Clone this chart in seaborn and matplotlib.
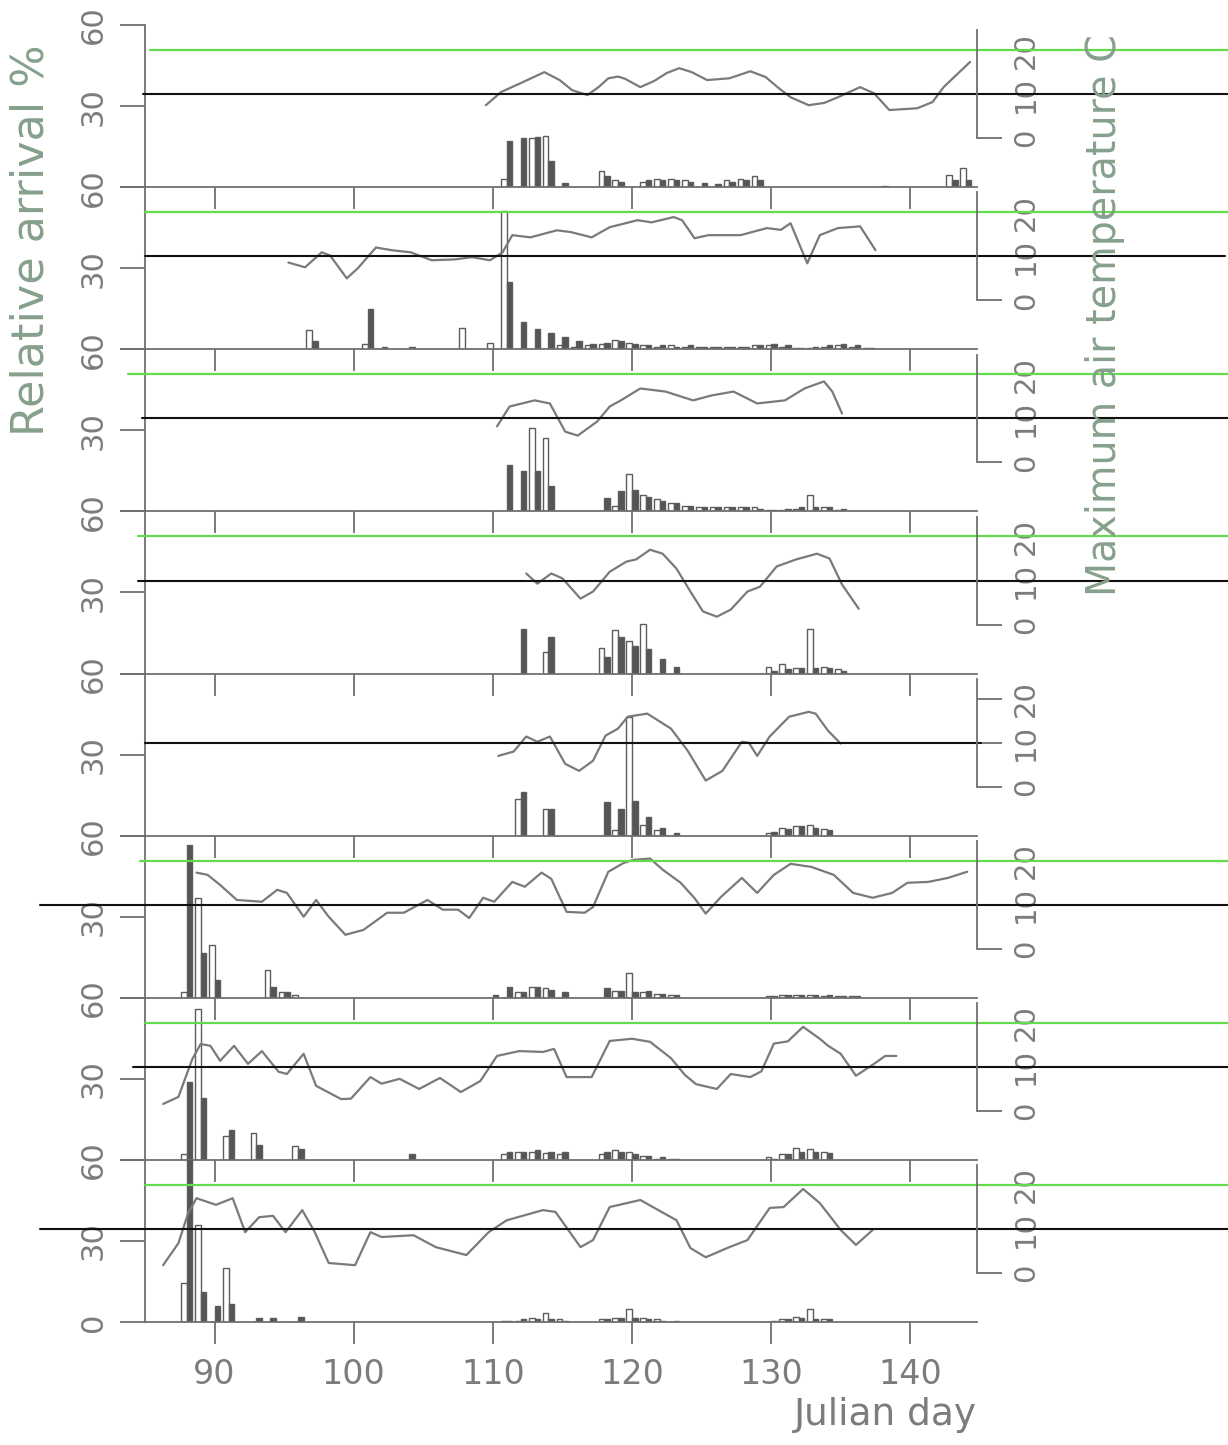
import numpy as np
import pandas as pd
import seaborn as sns
import matplotlib.pyplot as plt

# ---- relative arrival (%) per day: open and filled bars, 8 panels top to bottom
p1_days = [111, 112, 113, 114, 115, 118, 119, 121, 122, 123, 124, 125, 126, 127, 128, 129, 138, 143, 144]
p1_open = [3, 0, 18, 19, 0, 6, 2.5, 2, 3, 3, 2.5, 0, 0, 2.5, 3, 4, 0, 4.5, 7]
p1_filled = [17, 18, 18.5, 9.5, 1.5, 4, 2, 2.5, 2.5, 2.5, 2, 1.5, 1, 2, 2.5, 2.5, 0.5, 2.5, 2.5]

p2_days = [97, 101, 102, 104, 108, 110, 111, 112, 113, 114, 115, 116, 117, 118, 119, 120, 121,
           122, 123, 124, 125, 126, 127, 128, 129, 130, 131, 132, 133, 134, 135, 136, 137]
p2_open = [7, 2, 0, 0, 8, 2.5, 51, 0, 0, 0, 1.5, 1, 1.5, 2, 3.5, 2.5, 1.5,
           1, 1.5, 1, 1, 1, 1, 1, 1.5, 1.5, 1, 0.5, 0.5, 1, 1.5, 1, 0.5]
p2_filled = [3, 15, 1, 1, 0, 0, 25, 10, 7.5, 6, 4.5, 3, 2, 2.5, 3, 2, 1.5,
             1.5, 1, 1.5, 1, 1, 1, 1, 1.5, 2, 1.5, 0.5, 1, 1.5, 2, 1.5, 0.5]

p3_days = [111, 112, 113, 114, 118, 119, 120, 121, 122, 123, 124, 125, 126, 127, 128, 129, 130,
           131, 132, 133, 134, 135]
p3_open = [0, 0, 31, 27, 0, 2, 14, 6, 4.5, 3, 2, 1.5, 1.5, 1.5, 1.5, 1.5, 0.5, 0.5, 1, 6, 1.5, 0.5]
p3_filled = [17, 15, 15, 9.3, 5, 7.4, 7.8, 5.4, 4, 3, 2, 1.5, 1.5, 1.5, 1.5, 1, 0.5, 1, 1.5, 1.5, 1.5, 1]

p4_days = [112, 114, 118, 119, 120, 121, 122, 123, 130, 131, 132, 133, 134, 135]
p4_open = [0, 8, 9.3, 16, 12, 18.5, 0, 0, 2.5, 3.5, 2, 16.5, 2.5, 1.5]
p4_filled = [16.5, 13.5, 6, 13.5, 10, 9, 5.5, 2.5, 1, 1.5, 2, 2, 2, 1]

p5_days = [112, 114, 118, 119, 120, 121, 122, 123, 130, 131, 132, 133, 134]
p5_open = [13.7, 10, 0, 2, 44, 4, 2, 0, 1, 3, 3.5, 4, 2.5]
p5_filled = [16.3, 10, 12.6, 10, 13, 7, 3, 1, 1.5, 2.5, 3.5, 3, 2]

p6_days = [88, 89, 90, 94, 95, 96, 110, 111, 112, 113, 114, 115, 118, 119, 120, 121, 122, 123,
           130, 131, 132, 133, 134, 135, 136]
p6_open = [2, 37, 19.6, 10.4, 2, 1, 0, 0, 2, 4, 3.5, 0, 0, 2.5, 9, 2, 1.5, 1,
           0.5, 1, 1, 1, 0.5, 0.5, 0.5]
p6_filled = [56.7, 16.7, 6.7, 4, 2, 0, 1, 4, 2, 4, 3, 2, 3.5, 2.5, 2, 2.5, 1.5, 1,
             0.5, 1, 1, 1, 1, 0.5, 0.5]

p7_days = [88, 89, 91, 93, 96, 104, 111, 112, 113, 114, 115, 118, 119, 120, 121, 122, 123,
           130, 131, 132, 133, 134]
p7_open = [2, 56, 9, 10, 5, 0, 2, 3, 3, 2.5, 2, 2, 3.5, 3, 1.5, 0.5, 0.5, 1, 2, 4.5, 4, 3]
p7_filled = [29, 23, 11, 5.6, 4, 2, 3, 3, 3.5, 3, 3, 3, 3, 2, 1.5, 1, 0.5, 0.5, 2, 3, 3, 2.5]

p8_days = [88, 89, 90, 91, 93, 94, 96, 111, 112, 113, 114, 115, 118, 119, 120, 121, 122, 123,
           130, 131, 132, 133, 134]
p8_open = [14.4, 36, 0, 20, 0, 0, 0, 0.5, 0.5, 1.5, 3.5, 1, 1, 1.5, 5, 1.5, 1, 0,
           0, 1, 2, 5, 1]
p8_filled = [60, 11, 6, 6.5, 1.5, 1.5, 2, 0.5, 1, 1, 1, 0.5, 1, 1.5, 1.5, 1, 0.5, 0.5,
             0.5, 1, 1.5, 1, 1]

# ---- maximum air temperature (C)
p1_tday = [109.5, 110.6, 112.0, 113.7, 114.8, 115.7, 116.8, 117.6, 118.3, 119.0, 119.5, 120.6,
           121.6, 122.5, 123.4, 124.3, 125.4, 127.0, 128.5, 129.6, 130.5, 131.4, 132.7, 133.8,
           134.8, 136.4, 137.4, 138.5, 140.5, 141.6, 142.4, 144.3]
p1_temp = [7.5, 10.5, 12.5, 15.0, 13.2, 10.9, 9.8, 11.6, 13.6, 14.0, 13.5, 11.6,
           13.0, 14.8, 15.9, 15.0, 13.2, 13.6, 15.2, 13.9, 11.5, 9.3, 7.5, 8.0,
           9.3, 11.6, 10.2, 6.4, 6.8, 8.2, 11.6, 17.3]

p2_tday = [95.3, 96.5, 97.7, 98.3, 99.5, 100.3, 101.6, 102.7, 104.1, 105.6, 107.3, 108.5, 109.8,
           110.7, 111.4, 112.7, 114.6, 115.6, 117.1, 118.4, 120.4, 121.4, 123.0, 123.6, 124.5,
           125.5, 127.8, 129.7, 130.7, 131.4, 132.6, 133.5, 134.8, 136.4, 137.5]
p2_temp = [8.6, 7.5, 10.9, 10.2, 5.0, 7.3, 12.0, 11.4, 10.9, 9.1, 9.3, 9.8, 9.1,
           10.9, 14.8, 14.3, 15.9, 15.5, 14.3, 16.6, 18.2, 17.7, 18.9, 18.2, 14.1,
           14.8, 14.8, 16.4, 16.0, 17.5, 8.4, 14.8, 16.4, 16.8, 11.4]

p3_tday = [110.3, 111.2, 113.0, 114.1, 115.2, 116.1, 117.5, 118.4, 119.2, 120.6, 122.4, 124.4,
           125.7, 127.3, 129.0, 131.0, 132.4, 133.8, 134.4, 135.1]
p3_temp = [8.2, 12.7, 14.1, 13.4, 7.0, 6.1, 9.3, 12.7, 14.1, 16.8, 16.1, 14.1,
           15.2, 16.1, 13.4, 14.1, 16.8, 18.4, 16.1, 11.1]

p4_tday = [112.4, 113.2, 114.2, 115.0, 116.3, 117.2, 118.4, 119.6, 120.3, 121.3, 122.2, 123.2,
           124.2, 125.1, 126.1, 127.1, 128.3, 129.2, 130.4, 131.8, 133.3, 134.2, 135.1, 136.3]
p4_temp = [11.6, 9.3, 11.6, 10.5, 5.9, 7.5, 12.0, 14.3, 14.8, 17.0, 16.1, 12.7,
           7.5, 3.0, 1.8, 3.4, 7.5, 8.6, 13.2, 14.8, 16.1, 15.0, 9.1, 3.6]

p5_tday = [110.4, 111.5, 112.4, 113.2, 114.1, 115.2, 116.2, 117.2, 118.1, 119.0, 119.7, 121.1,
           122.8, 124.0, 125.3, 126.5, 127.9, 128.4, 129.0, 129.9, 131.3, 132.7, 133.2, 134.1,
           135.0]
p5_temp = [7.0, 8.0, 11.4, 10.2, 11.4, 5.2, 3.6, 5.9, 11.6, 13.2, 15.9, 16.6,
           13.2, 8.2, 1.4, 3.6, 10.2, 10.0, 7.0, 11.4, 15.9, 17.0, 16.6, 12.7, 9.8]

p6_tday = [88.7, 89.5, 90.4, 91.6, 93.4, 94.5, 95.2, 96.4, 97.3, 98.2, 99.4, 100.7, 102.4,
           103.6, 105.3, 106.4, 107.5, 108.3, 109.3, 110.1, 111.4, 112.3, 113.5, 114.2, 115.3,
           116.6, 117.2, 118.3, 119.4, 120.1, 121.3, 122.2, 123.5, 124.5, 125.3, 126.4, 127.9,
           129.0, 130.2, 131.4, 132.9, 134.5, 135.9, 137.3, 138.7, 139.8, 141.3, 142.7, 144.1]
p6_temp = [17.3, 16.8, 14.5, 11.1, 10.7, 13.4, 12.7, 7.3, 11.1, 7.3, 3.2, 4.3, 8.2,
           8.2, 11.1, 8.9, 8.9, 7.0, 11.6, 10.7, 15.2, 14.1, 17.3, 15.9, 8.4,
           8.2, 9.5, 17.5, 19.5, 20.2, 20.5, 18.0, 15.0, 11.5, 8.0, 11.8, 16.1,
           12.7, 16.8, 19.3, 18.6, 16.8, 12.7, 11.6, 12.7, 15.0, 15.2, 16.1, 17.5]

p7_tday = [86.3, 87.4, 88.4, 89.0, 89.7, 90.4, 91.4, 92.4, 93.4, 94.6, 95.2, 96.4, 97.3, 99.1,
           99.8, 101.2, 102.0, 103.3, 104.7, 106.2, 107.7, 109.1, 110.3, 111.9, 113.6, 114.4,
           115.3, 117.1, 118.4, 120.0, 121.3, 122.8, 123.8, 124.6, 126.1, 127.1, 128.5, 129.3,
           130.2, 131.2, 132.3, 133.5, 134.1, 135.0, 136.1, 137.4, 138.2, 139.0]
p7_temp = [1.6, 3.2, 11.8, 15.2, 14.8, 11.4, 14.8, 10.7, 13.6, 8.9, 8.4, 13.0, 5.7, 2.7,
           2.8, 7.7, 6.2, 7.3, 5.0, 7.5, 4.3, 6.8, 12.5, 13.6, 13.4, 14.1,
           7.7, 7.7, 15.9, 16.4, 15.7, 12.0, 8.2, 6.1, 5.0, 8.4, 7.7, 9.0,
           15.3, 15.8, 19.1, 16.4, 14.8, 13.0, 8.0, 10.7, 12.5, 12.5]

p8_tday = [86.3, 87.4, 88.1, 88.7, 90.1, 91.3, 92.2, 93.2, 94.2, 95.1, 96.3, 97.2, 98.2, 100.1,
           101.2, 102.0, 104.3, 105.9, 108.1, 109.7, 111.0, 113.6, 114.5, 116.3, 117.2, 118.4,
           120.6, 121.9, 123.2, 124.2, 125.3, 127.0, 128.3, 129.9, 130.9, 132.3, 133.5, 135.0,
           136.1, 137.3]
p8_temp = [1.8, 6.8, 13.6, 17.0, 15.5, 17.0, 9.3, 12.7, 13.0, 9.3, 14.3, 9.3, 2.3, 1.8,
           9.3, 8.2, 8.6, 5.9, 4.1, 9.3, 12.0, 14.3, 13.9, 5.9, 7.5, 15.0,
           16.6, 14.3, 12.0, 5.7, 3.6, 5.9, 7.5, 14.8, 15.0, 19.1, 15.9, 9.8,
           6.4, 9.8]

x_ticks = [90, 100, 110, 120, 130, 140]
pct_ticks = [0, 30, 60]
temp_ticks = [0, 10, 20]

panels = [
    (p1_days, p1_open, p1_filled, p1_tday, p1_temp),
    (p2_days, p2_open, p2_filled, p2_tday, p2_temp),
    (p3_days, p3_open, p3_filled, p3_tday, p3_temp),
    (p4_days, p4_open, p4_filled, p4_tday, p4_temp),
    (p5_days, p5_open, p5_filled, p5_tday, p5_temp),
    (p6_days, p6_open, p6_filled, p6_tday, p6_temp),
    (p7_days, p7_open, p7_filled, p7_tday, p7_temp),
    (p8_days, p8_open, p8_filled, p8_tday, p8_temp),
]

# horizontal reference lines (10 C black, 20 C green), extents in axes fraction
green_xmin = [0.006, 0.0, -0.02, -0.008, None, -0.006, 0.0, 0.0]
black_xmin = [-0.002, 0.0, -0.004, -0.008, 0.0, -0.126, -0.014, -0.126]
black_xmax = [1.31, 1.298, 1.31, 1.31, 1.005, 1.31, 1.31, 1.31]

GRAY = '#6f6f6f'
TXT = '#7c7c7c'
LAB = '#86a08c'
GREEN = '#62dc4e'

sns.set_theme(style='white')
plt.rcParams['font.family'] = ['DejaVu Sans']

fig, axes = plt.subplots(8, 1, figsize=(12.28, 14.45), dpi=100, sharex=True)
fig.subplots_adjust(left=0.1181, right=0.7956, top=0.9827, bottom=0.0851, hspace=0)

for i, ax in enumerate(axes):
    days, opn, fil, tday, temp = panels[i]
    df = pd.DataFrame({'day': days + days,
                       'pct': opn + fil,
                       'kind': ['open'] * len(days) + ['filled'] * len(days)})
    sns.barplot(data=df, x='day', y='pct', hue='kind', hue_order=['open', 'filled'],
                palette={'open': 'white', 'filled': '#555555'}, saturation=1,
                native_scale=True, errorbar=None, legend=False, width=0.8,
                edgecolor='#5c5c5c', linewidth=1.0, ax=ax)
    ax.patch.set_visible(False)
    ax.set_xlabel('')
    ax.set_ylabel('')
    ax.set_ylim(0, 60)
    ax.set_xlim(85, 144.8)
    ax.set_xticks(x_ticks)
    ax.set_yticks(pct_ticks)
    ax.set_yticklabels(['0' if i == 7 else '', '30', '60'])
    for side in ['top', 'right']:
        ax.spines[side].set_visible(False)
    for side in ['left', 'bottom']:
        ax.spines[side].set_color(GRAY)
        ax.spines[side].set_linewidth(1.3)
    ax.tick_params(axis='x', direction='out', length=16, width=1.3, color=GRAY,
                   labelcolor=TXT, labelsize=24, pad=10, bottom=True)
    ax.tick_params(axis='y', direction='out', length=18, width=1.3, color=GRAY,
                   labelcolor=TXT, labelsize=22, pad=9, left=True)
    for lab in ax.get_yticklabels():
        lab.set_rotation(90)
        lab.set_va('center')

    tx = ax.twinx()
    sns.lineplot(x=tday, y=temp, ax=tx, color='#7a7a7a', linewidth=1.6)
    tx.set_ylim(-11.1, 25.7)
    tx.set_yticks(temp_ticks)
    tx.set_yticklabels(['0', '10', '20'])
    for side in ['top', 'left', 'bottom']:
        tx.spines[side].set_visible(False)
    tx.spines['right'].set_color(GRAY)
    tx.spines['right'].set_linewidth(1.3)
    tx.spines['right'].set_bounds(0, 24.5)
    tx.tick_params(axis='y', direction='out', length=18, width=1.3, color=GRAY,
                   labelcolor=TXT, labelsize=21, pad=7, right=True)
    for lab in tx.get_yticklabels():
        lab.set_rotation(90)
        lab.set_va('center')

    if green_xmin[i] is not None:
        tx.axhline(20, xmin=green_xmin[i], xmax=1.31, color=GREEN, lw=1.6, clip_on=False)
    tx.axhline(10, xmin=black_xmin[i], xmax=black_xmax[i], color='#111111', lw=1.5,
               clip_on=False)

axes[-1].set_xlabel('Julian day', loc='right', fontsize=27, color=TXT, labelpad=4)

fig.text(0.025, 1 - 240 / 1445, 'Relative arrival %', rotation=90, va='center', ha='center',
         fontsize=32, color=LAB)
fig.text(0.9, 1 - 315 / 1445, 'Maximum air temperature C', rotation=90, va='center',
         ha='center', fontsize=28.5, color=LAB)

fig.savefig('out.png', dpi=100)
